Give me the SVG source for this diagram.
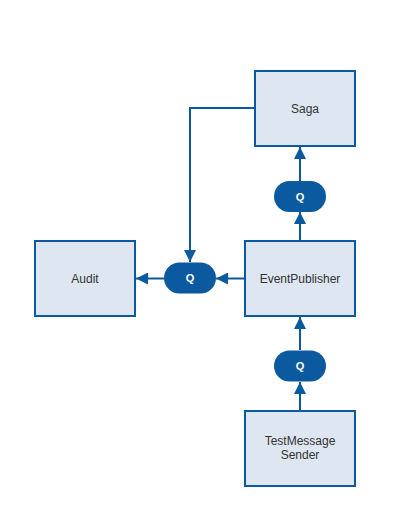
<svg xmlns="http://www.w3.org/2000/svg" width="413" height="522" viewBox="0 0 413 522">
<style>
.box{fill:#dee6f1;stroke:#0b5aa0;stroke-width:2}
.lbl{font-family:"Liberation Sans",Arial,sans-serif;font-size:12px;fill:#333333;text-anchor:middle}
.q{fill:#0b5aa0}
.qt{font-family:"Liberation Sans",Arial,sans-serif;font-size:11px;font-weight:bold;fill:#ffffff;text-anchor:middle}
.c{fill:none;stroke:#0b5aa0;stroke-width:2}
</style>
<defs>
<marker id="ah" viewBox="0 0 12 12" refX="12" refY="6" markerWidth="12" markerHeight="12" markerUnits="userSpaceOnUse" orient="auto">
<path d="M0,0 L12,6 L0,12 Z" fill="#0b5aa0"/>
</marker>
</defs>
<rect width="413" height="522" fill="#ffffff"/>
<g id="connectors">
<path class="c" d="M245,278.5 H216" marker-end="url(#ah)"/>
<path class="c" d="M164,278.5 H136" marker-end="url(#ah)"/>
<path class="c" d="M255,108 H190 V262" marker-end="url(#ah)"/>
<path class="c" d="M300,241 V212" marker-end="url(#ah)"/>
<path class="c" d="M300,181 V147" marker-end="url(#ah)"/>
<path class="c" d="M300,411 V382" marker-end="url(#ah)"/>
<path class="c" d="M300,350 V317" marker-end="url(#ah)"/>
</g>
<g id="saga">
<rect class="box" x="255" y="71" width="100" height="75"/>
<text class="lbl" x="305" y="112.5">Saga</text>
</g>
<g id="eventpublisher">
<rect class="box" x="245" y="241" width="110" height="75"/>
<text class="lbl" x="300" y="282.5">EventPublisher</text>
</g>
<g id="audit">
<rect class="box" x="35" y="241" width="100" height="75"/>
<text class="lbl" x="85" y="282.5">Audit</text>
</g>
<g id="testmessagesender">
<rect class="box" x="245" y="411" width="110" height="75"/>
<text class="lbl" x="300" y="445">TestMessage</text>
<text class="lbl" x="300" y="459">Sender</text>
</g>
<g id="queue-saga">
<rect class="q" x="274" y="181" width="52" height="31" rx="15.5"/>
<text class="qt" x="300" y="200.5">Q</text>
</g>
<g id="queue-audit">
<rect class="q" x="164" y="262.5" width="52" height="31" rx="15.5"/>
<text class="qt" x="190" y="282">Q</text>
</g>
<g id="queue-event">
<rect class="q" x="274" y="350.5" width="52" height="31" rx="15.5"/>
<text class="qt" x="300" y="370">Q</text>
</g>
</svg>
